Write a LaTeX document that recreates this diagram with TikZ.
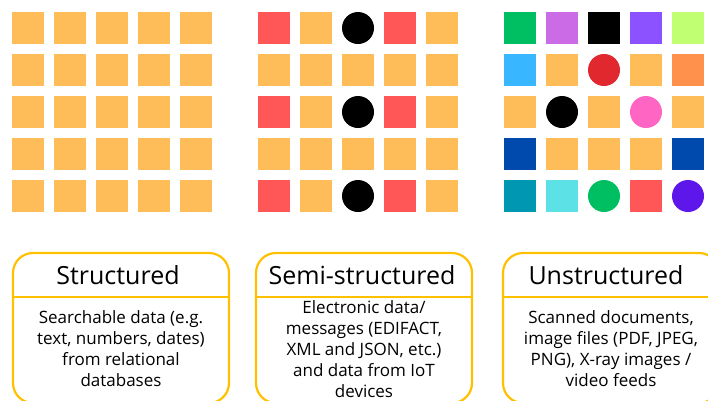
\documentclass[tikz,border=0pt]{standalone}
\usepackage{fontspec}
\setmainfont{Open Sans}
\definecolor{tile}{HTML}{FFBD59}
\definecolor{tileR}{HTML}{FF5757}
\definecolor{tileG}{HTML}{00BF63}
\definecolor{tileM}{HTML}{CB6CE6}
\definecolor{tileV}{HTML}{8C52FF}
\definecolor{tileL}{HTML}{C1FF72}
\definecolor{tileB}{HTML}{38B6FF}
\definecolor{tileA}{HTML}{FF914D}
\definecolor{tileN}{HTML}{004AAD}
\definecolor{tileT}{HTML}{0097B2}
\definecolor{tileC}{HTML}{5CE1E6}
\definecolor{dotR}{HTML}{E0282E}
\definecolor{dotP}{HTML}{FF66C4}
\definecolor{dotU}{HTML}{5E17EB}
\definecolor{frame}{HTML}{FFC000}
\tikzset{
  cell/.style={minimum size=32pt, inner sep=0pt, outer sep=0pt},
  sqO/.style={cell, rectangle, fill=tile},
  sqR/.style={cell, rectangle, fill=tileR},
  sqK/.style={cell, rectangle, fill=black},
  sqG/.style={cell, rectangle, fill=tileG},
  sqM/.style={cell, rectangle, fill=tileM},
  sqV/.style={cell, rectangle, fill=tileV},
  sqL/.style={cell, rectangle, fill=tileL},
  sqB/.style={cell, rectangle, fill=tileB},
  sqA/.style={cell, rectangle, fill=tileA},
  sqN/.style={cell, rectangle, fill=tileN},
  sqT/.style={cell, rectangle, fill=tileT},
  sqC/.style={cell, rectangle, fill=tileC},
  dotK/.style={cell, circle, fill=black},
  dotR/.style={cell, circle, fill=dotR},
  dotP/.style={cell, circle, fill=dotP},
  dotG/.style={cell, circle, fill=tileG},
  dotU/.style={cell, circle, fill=dotU},
  panel/.style={draw=frame, line width=2.2pt, rounded corners=20pt,
    minimum width=216pt, minimum height=150pt},
  title/.style={font=\fontsize{25}{30}\selectfont, anchor=base, inner sep=0pt},
  body/.style={font=\fontsize{17}{21}\selectfont, align=center, inner sep=0pt}
}
\begin{document}
\begin{tikzpicture}[x=1pt, y=-1pt]
    \clip (0,0) rectangle (708,400);

    % Structured grid: all orange tiles
    \foreach \r in {1,...,5} {
        \foreach \c in {1,...,5} {
            \node[sqO] (st-\r-\c) at ({28+42*(\c-1)}, {28+42*(\r-1)}) {};
        }
    }

    % Semi-structured grid
    \foreach \row [count=\r] in {{sqR,sqO,dotK,sqR,sqO}, {sqO,sqO,sqO,sqO,sqO},
        {sqR,sqO,dotK,sqR,sqO}, {sqO,sqO,sqO,sqO,sqO}, {sqR,sqO,dotK,sqR,sqO}} {
        \foreach \code [count=\c] in \row {
            \node[\code] (semi-\r-\c) at ({274+42*(\c-1)}, {28+42*(\r-1)}) {};
        }
    }

    % Unstructured grid
    \foreach \row [count=\r] in {{sqG,sqM,sqK,sqV,sqL}, {sqB,sqO,dotR,sqO,sqA},
        {sqO,dotK,sqO,dotP,sqO}, {sqN,sqO,sqO,sqO,sqN}, {sqT,sqC,dotG,sqR,dotU}} {
        \foreach \code [count=\c] in \row {
            \node[\code] (un-\r-\c) at ({520+42*(\c-1)}, {28+42*(\r-1)}) {};
        }
    }

    % Panels with title, divider and description
    \foreach \x/\name/\tx/\head/\text in {
        121/structured/118/Structured/{Searchable data (e.g.\\text, numbers, dates)\\from relational\\databases},
        364/semi/362/Semi-structured/{Electronic data/\\messages (EDIFACT,\\XML and JSON, etc.)\\and data from IoT\\devices},
        611/unstructured/606/Unstructured/{Scanned documents,\\image files (PDF, JPEG,\\PNG), X-ray images /\\video feeds}} {
        \node[panel] (\name) at (\x, 328) {};
        \node[title] (\name-head) at (\tx, 284) {\head};
        \draw[frame, line width=2.2pt] (\name.west |- 0,297) -- (\name.east |- 0,297);
        \node[body] (\name-text) at (\x, 349) {\text};
    }
\end{tikzpicture}
\end{document}
